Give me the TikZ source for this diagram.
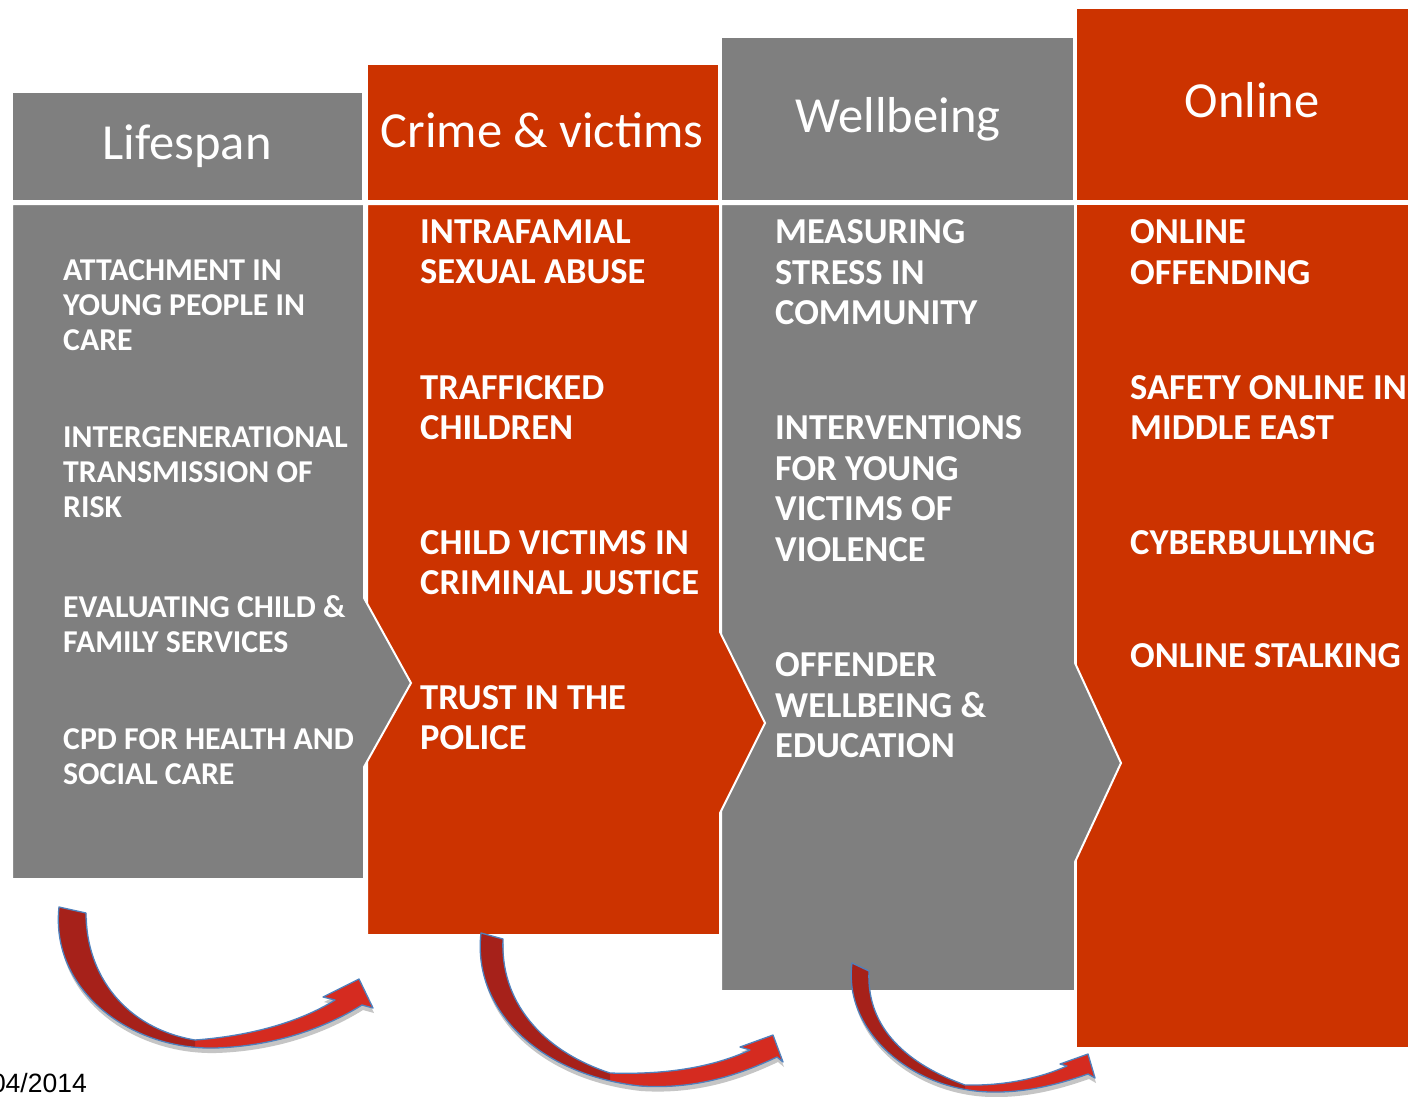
\documentclass[tikz,border=0pt]{standalone}
\usepackage{fontspec}
\setmainfont{Carlito}
\newfontfamily\datefont{Liberation Sans}
\definecolor{cgray}{HTML}{7F7F7F}
\definecolor{cred}{HTML}{CC3300}
\definecolor{adark}{HTML}{A6211A}
\definecolor{abright}{HTML}{D52B20}
\definecolor{aline}{HTML}{4F81BD}
\definecolor{ashadow}{HTML}{8C8C8C}
% curved block arrows (outline paths)
\newcommand*\arrOneFull{(59,907) .. controls (50,990) and (130,1050) .. (215,1048) .. controls (280,1046) and (330,1025) .. (362,1005) -- (373,1008) -- (359,979) -- (323,997) -- (335,1000) .. controls (300,1022) and (250,1036) .. (195,1040) .. controls (125,1028) and (86,975) .. (86,913) -- cycle}
\newcommand*\arrTwoFull{(481,933) .. controls (472,1010) and (540,1075) .. (640,1086) .. controls (700,1090) and (745,1072) .. (777,1057) -- (783,1062) -- (773,1035) -- (740,1047) -- (750,1050) .. controls (715,1066) and (670,1075) .. (610,1073) .. controls (540,1050) and (500,1000) .. (503,939) -- cycle}
\newcommand*\arrThreeFull{(852,963) .. controls (843,1030) and (910,1090) .. (990,1092) .. controls (1030,1093) and (1065,1082) .. (1088,1074) -- (1095,1078) -- (1088,1054) -- (1060,1064) -- (1067,1066) .. controls (1040,1078) and (1005,1086) .. (965,1085) .. controls (910,1065) and (866,1030) .. (869,971) -- cycle}
\begin{document}
\begin{tikzpicture}[x=1pt,y=-1pt,
  panel/.style={draw=white, line width=2pt, line join=miter},
  hdrtext/.style={text=white, font=\fontsize{50.5}{56}\selectfont, inner sep=0pt, anchor=base},
  itemA/.style={text=white, font=\bfseries\fontsize{36.5}{40.5}\selectfont, inner sep=0pt, anchor=north west, align=left},
  itemB/.style={text=white, font=\bfseries\fontsize{31.8}{35}\selectfont, inner sep=0pt, anchor=north west, align=left},
  ashad/.style={fill=ashadow, opacity=0.5},
  aedge/.style={draw=aline, line width=1.3pt, line join=round}]
\useasboundingbox (0,0) rectangle (1408,1097);
\clip (0,0) rectangle (1408,1097);
\fill[white] (0,0) rectangle (1408,1097);
% column 4
\path[panel, fill=cred] (1076,204) rectangle (1430,1048);
\path[panel, fill=cred] (1076,8) rectangle (1430,201);
% column 3
\path[panel, fill=cgray] (721,204) -- (1075,204) -- (1075,663) -- (1121,763) -- (1075,862) -- (1075,991) -- (721,991) -- cycle;
\path[panel, fill=cgray] (721,37) rectangle (1074,201);
% column 2
\path[panel, fill=cred] (367,204) -- (720,204) -- (720,632) -- (765,723) -- (720,813) -- (720,935) -- (367,935) -- cycle;
\path[panel, fill=cred] (367,64) rectangle (719,201);
% column 1
\path[panel, fill=cgray] (12,204) -- (364,204) -- (364,598) -- (411,683) -- (364,767) -- (364,879) -- (12,879) -- cycle;
\path[panel, fill=cgray] (12,92) rectangle (363,201);
% headers
\node[hdrtext] (h1) at (187,160) {Lifespan};
\node[hdrtext] (h2) at (542,147) {Crime \& victims};
\node[hdrtext] (h3) at (898,133) {Wellbeing};
\node[hdrtext] (h4) at (1252,118) {Online};
% column 1 items
\node[itemB] (a1) at (63,259) {ATTACHMENT IN\\YOUNG PEOPLE IN\\CARE};
\node[itemB] (a2) at (63,426) {INTERGENERATIONAL\\TRANSMISSION OF\\RISK};
\node[itemB] (a3) at (63,595) {EVALUATING CHILD \&\\FAMILY SERVICES};
\node[itemB] (a4) at (63,728) {CPD FOR HEALTH AND\\SOCIAL CARE};
% column 2 items
\node[itemA] (b1) at (420,219.5) {INTRAFAMIAL\\SEXUAL ABUSE};
\node[itemA] (b2) at (420,375) {TRAFFICKED\\CHILDREN};
\node[itemA] (b3) at (420,530) {CHILD VICTIMS IN\\CRIMINAL JUSTICE};
\node[itemA] (b4) at (420,685) {TRUST IN THE\\POLICE};
% column 3 items
\node[itemA] (c1) at (775,219.5) {MEASURING\\STRESS IN\\COMMUNITY};
\node[itemA] (c2) at (775,415.5) {INTERVENTIONS\\FOR YOUNG\\VICTIMS OF\\VIOLENCE};
\node[itemA] (c3) at (775,652.5) {OFFENDER\\WELLBEING \&\\EDUCATION};
% column 4 items
\node[itemA] (d1) at (1130,219.5) {ONLINE\\OFFENDING};
\node[itemA] (d2) at (1130,375) {SAFETY ONLINE IN\\MIDDLE EAST};
\node[itemA] (d3) at (1130,530) {CYBERBULLYING};
\node[itemA] (d4) at (1130,643.5) {ONLINE STALKING};
% curved arrows: shadows
\begin{scope}[shift={(1,5)}]
  \fill[ashad] \arrOneFull;
  \fill[ashad] \arrTwoFull;
  \fill[ashad] \arrThreeFull;
\end{scope}
% arrow 1
\fill[abright] \arrOneFull;
\begin{scope}\clip (0,880) rectangle (195,1097); \fill[adark] \arrOneFull; \end{scope}
\path[aedge] \arrOneFull;
% arrow 2
\fill[abright] \arrTwoFull;
\begin{scope}\clip (400,880) rectangle (610,1097); \fill[adark] \arrTwoFull; \end{scope}
\path[aedge] \arrTwoFull;
% arrow 3
\fill[abright] \arrThreeFull;
\begin{scope}\clip (800,880) rectangle (965,1097); \fill[adark] \arrThreeFull; \end{scope}
\path[aedge] \arrThreeFull;
% date
\node[text=black, font=\datefont\fontsize{26.5}{30}\selectfont, inner sep=0pt, anchor=base east] (date) at (87,1092) {04/2014};
\end{tikzpicture}
\end{document}
